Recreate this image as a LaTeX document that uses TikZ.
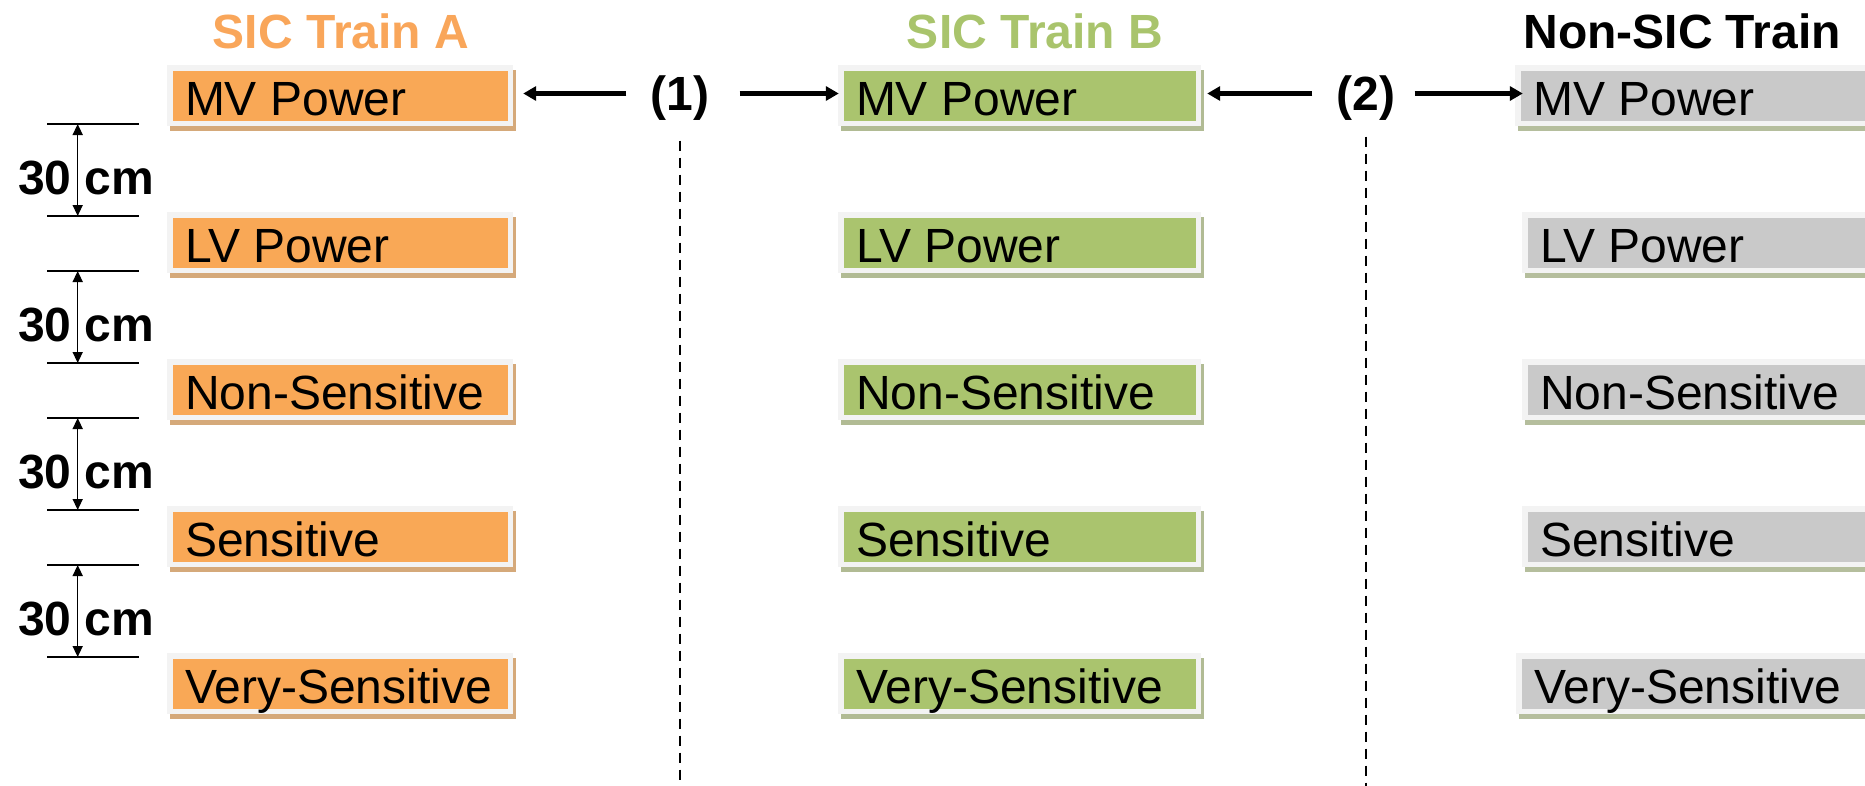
\documentclass[tikz,border=0pt]{standalone}
\usepackage{fontspec}
\setmainfont{Liberation Sans}
\usetikzlibrary{arrows.meta,calc}
\definecolor{orA}{HTML}{F9A856}
\definecolor{grB}{HTML}{AAC46E}
\definecolor{gyC}{HTML}{C9C9C9}
\definecolor{frm}{HTML}{F3F3F3}
\definecolor{shA}{HTML}{D5A97A}
\definecolor{shB}{HTML}{B1BB94}
\definecolor{shC}{HTML}{B5BE9D}
\definecolor{ttlA}{HTML}{F9A65A}
\definecolor{ttlB}{HTML}{A9C46C}
\newcommand\boxfont{\fontsize{48pt}{56pt}\selectfont}
\newcommand\headfont{\fontsize{48pt}{56pt}\selectfont\bfseries}
\tikzset{
  rowbox/.style n args={3}{rectangle, inner sep=0pt, minimum height=61pt, minimum width=#3, fill=frm,
    preaction={fill=#2, transform canvas={xshift=3pt,yshift=-4.5pt}},
    path picture={\fill[#1] ([xshift=6pt,yshift=-6pt]path picture bounding box.north west) rectangle ([xshift=-5pt,yshift=5pt]path picture bounding box.south east);}},
  boxA/.style={rowbox={orA}{shA}{346pt}},
  boxB/.style={rowbox={grB}{shB}{363pt}},
  boxC/.style={rowbox={gyC}{shC}{363pt}},
  boxtext/.style={anchor=base west, xshift=18pt, yshift=-20pt, font=\boxfont, inner sep=0pt, text=black},
  headtext/.style={font=\headfont, inner sep=0pt, anchor=base},
  marker/.style={font=\headfont, inner sep=0pt},
  conn/.style={line width=4.2pt, -{Triangle[length=13pt,width=14pt]}},
  dimline/.style={line width=1.5pt},
  dimarrow/.style={line width=1.5pt, {Triangle[length=11pt,width=10pt]}-{Triangle[length=11pt,width=10pt]}},
  dimtext/.style={font=\headfont, inner sep=0pt, anchor=base west},
  sepline/.style={line width=1.8pt, dash pattern=on 10pt off 7pt}
}
\begin{document}
\begin{tikzpicture}[x=1pt,y=1pt]
\useasboundingbox (0,0) rectangle (1865,-785);
\clip (0,0) rectangle (1865,-785);

% titles
\node[headtext, text=ttlA] (tA) at (341,-48) {SIC Train A};
\node[headtext, text=ttlB] (tB) at (1035,-48) {SIC Train B};
\node[headtext, text=black] (tC) at (1682,-48) {Non-SIC Train};

% rows
\foreach \t/\cl [count=\i from 0] in {MV Power/1515, LV Power/1522, Non-Sensitive/1522, Sensitive/1522, Very-Sensitive/1516}{
  \pgfmathsetmacro\yc{-(95.5+147*\i)}
  \pgfmathsetmacro\cx{\cl+181.5}
  \node[boxA, label={[boxtext]west:\t}] (A\i) at (340,\yc) {};
  \node[boxB, label={[boxtext]west:\t}] (B\i) at (1019.5,\yc) {};
  \node[boxC, label={[boxtext]west:\t}] (C\i) at (\cx,\yc) {};
}

% dimension marks
\foreach \k in {0,...,3}{
  \pgfmathsetmacro\yt{-(124+147*\k)}
  \pgfmathsetmacro\yb{-(216+147*\k)}
  \pgfmathsetmacro\ytx{-(194+147*\k)}
  \coordinate (dt\k) at (77.7,\yt);
  \coordinate (db\k) at (77.7,\yb);
  \draw[dimline] (47,\yt) -- (139,\yt);
  \draw[dimline] (47,\yb) -- (139,\yb);
  \node[dimtext] (dx\k) at (18,\ytx) {30 cm};
  \draw[dimarrow] (dt\k) -- (db\k);
}

% separators and arrows
\node[marker] (l1) at (680,-98) {(1)};
\node[marker] (l2) at (1366,-98) {(2)};
\coordinate (bot1) at (680,-790);
\coordinate (bot2) at (1366,-790);
\draw[sepline] ($(l1.south)+(0,-20pt)$) -- (bot1);
\draw[sepline] ($(l2.south)+(0,-16pt)$) -- (bot2);

\draw[conn] ($(l1.west |- A0.east)+(-24pt,2pt)$) -- ($(A0.east)+(10pt,2pt)$);
\draw[conn] ($(l1.east |- B0.west)+(30pt,2pt)$) -- ($(B0.west)+(1pt,2pt)$);
\draw[conn] ($(l2.west |- B0.east)+(-24pt,2pt)$) -- ($(B0.east)+(6pt,2pt)$);
\draw[conn] ($(l2.east |- C0.west)+(19pt,2pt)$) -- ($(C0.west)+(8pt,2pt)$);
\end{tikzpicture}
\end{document}
